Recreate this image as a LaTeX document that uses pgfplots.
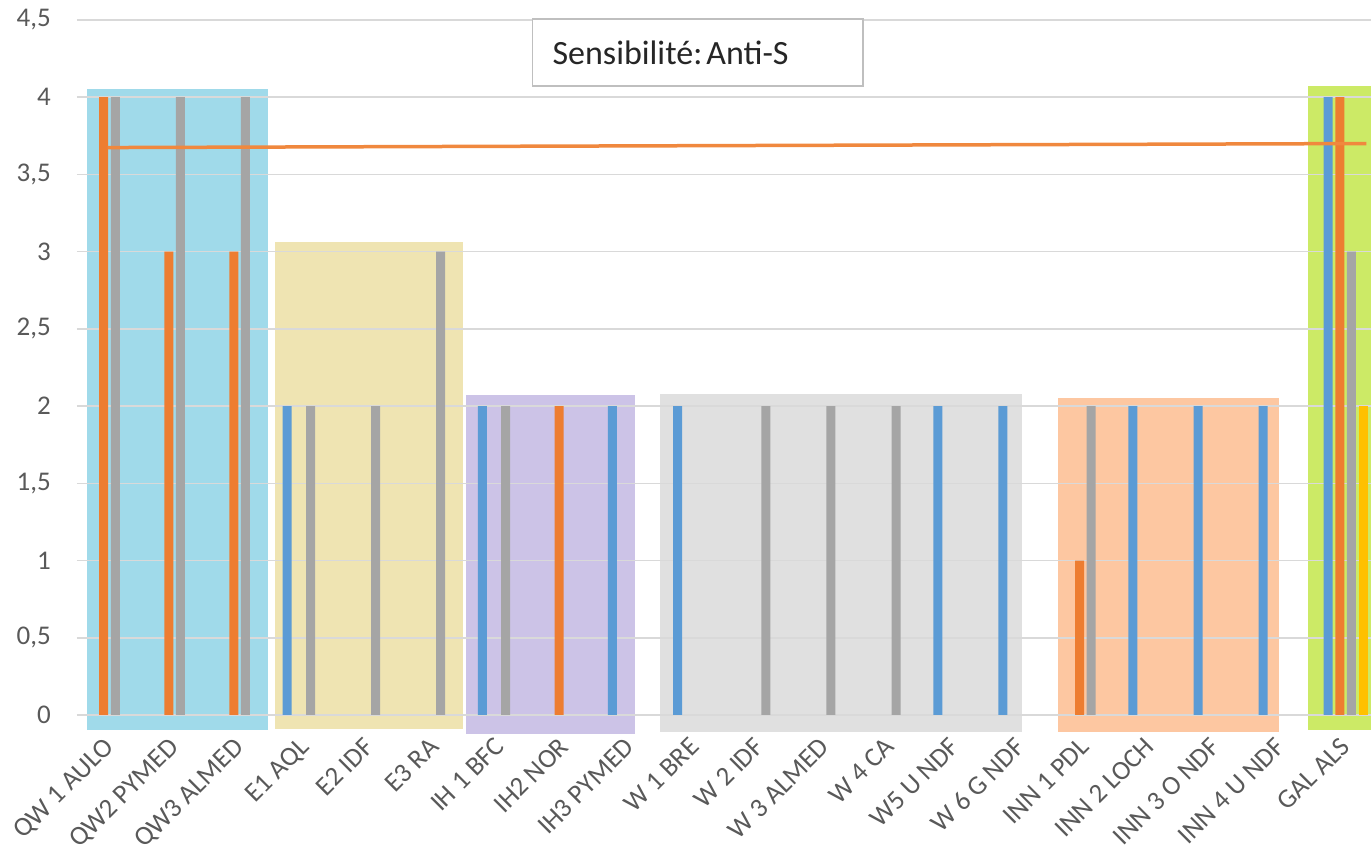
\documentclass[border=0pt]{standalone}
\usepackage{pgfplots}
\pgfplotsset{compat=1.18}
\usepackage{fontspec}
\setmainfont{Carlito}
\definecolor{cblue}{HTML}{5B9BD5}
\definecolor{corange}{HTML}{ED7D31}
\definecolor{cline}{HTML}{F0883E}
\definecolor{cgray}{HTML}{A5A5A5}
\definecolor{cyellow}{HTML}{FFC000}
\definecolor{rcyan}{HTML}{A0DAEA}
\definecolor{rtan}{HTML}{EFE4B2}
\definecolor{rpurple}{HTML}{CCC3E7}
\definecolor{rgray}{HTML}{E0E0E0}
\definecolor{rpeach}{HTML}{FDC7A1}
\definecolor{rgreen}{HTML}{CCEA66}
\definecolor{ticktext}{HTML}{595959}
\definecolor{gridc}{HTML}{D9D9D9}
\definecolor{boxc}{HTML}{BFBFBF}
\begin{document}
\begin{tikzpicture}
\begin{axis}[
  at={(0,0)}, anchor=south west,
  scale only axis, width=1294pt, height=695pt,
  xmin=-0.5, xmax=19.39, ymin=0, ymax=4.5,
  clip=false,
  set layers,
  axis line style={draw=none},
  major tick length=0pt,
  ymajorgrids,
  grid style={gridc, line width=1.5pt},
  ytick={0,0.5,...,4.5},
  /pgf/number format/use comma,
  /pgf/number format/assume math mode=true,
  yticklabel style={anchor=east, inner sep=0pt, xshift=-26pt, font=\fontsize{27}{32}\selectfont, color=ticktext},
  xtick={0,...,19},
  xticklabels={QW 1 AULO, QW2 PYMED, QW3 ALMED, E1 AQL, E2 IDF, E3 RA, IH 1 BFC, IH2 NOR, IH3 PYMED, W 1 BRE, W 2 IDF, W 3 ALMED, W 4 CA, W5 U NDF, W 6 G NDF, INN 1 PDL, INN 2 LOCH, INN 3 O NDF, INN 4 U NDF, GAL ALS},
  xticklabel style={xshift=-7pt, yshift=-21pt, rotate=45, anchor=north east, inner sep=0pt, font=\fontsize{27}{32}\selectfont, color=ticktext},
]
% group background rectangles
\addplot[on layer=axis background, fill=rcyan, draw=none] coordinates {(-0.34,-0.10) (2.44,-0.10) (2.44,4.05) (-0.34,4.05)};
\addplot[on layer=axis background, fill=rtan, draw=none] coordinates {(2.55,-0.09) (5.44,-0.09) (5.44,3.06) (2.55,3.06)};
\addplot[on layer=axis background, fill=rpurple, draw=none] coordinates {(5.48,-0.12) (8.08,-0.12) (8.08,2.07) (5.48,2.07)};
\addplot[on layer=axis background, fill=rgray, draw=none] coordinates {(8.46,-0.11) (14.02,-0.11) (14.02,2.08) (8.46,2.08)};
\addplot[on layer=axis background, fill=rpeach, draw=none] coordinates {(14.58,-0.11) (17.97,-0.11) (17.97,2.05) (14.58,2.05)};
\addplot[on layer=axis background, fill=rgreen, draw=none] coordinates {(18.42,-0.10) (19.6,-0.10) (19.6,4.07) (18.42,4.07)};
% bars
\addplot[ybar, bar width=9pt, bar shift=-17.5pt, fill=cblue, draw=none] coordinates {(3,2) (6,2) (8,2) (9,2) (13,2) (14,2) (16,2) (17,2) (18,2) (19,4)};
\addplot[ybar, bar width=9pt, bar shift=-5.8pt, fill=corange, draw=none] coordinates {(0,4) (1,3) (2,3) (7,2) (15,1) (19,4)};
\addplot[ybar, bar width=9pt, bar shift=5.8pt, fill=cgray, draw=none] coordinates {(0,4) (1,4) (2,4) (3,2) (4,2) (5,3) (6,2) (10,2) (11,2) (12,2) (15,2) (19,3)};
\addplot[ybar, bar width=9pt, bar shift=17.5pt, fill=cyellow, draw=none] coordinates {(19,2)};
% trend line
\addplot[sharp plot, cline, line width=3.5pt, mark=none] coordinates {(-0.03,3.674) (19.32,3.70)};
% title box
\draw[boxc, line width=1.5pt, fill=white] (axis cs:6.5,4.074) rectangle (axis cs:11.58,4.508);
\node[anchor=west, inner sep=0pt, xshift=20pt, font=\fontsize{34}{40}\selectfont, text=black!85] at (axis cs:6.5,4.29) {Sensibilité:\kern4pt Anti-S};
\end{axis}
\pgfresetboundingbox
\path[use as bounding box] (-77pt,-136pt) rectangle (1294pt,715pt);
\end{tikzpicture}
\end{document}
